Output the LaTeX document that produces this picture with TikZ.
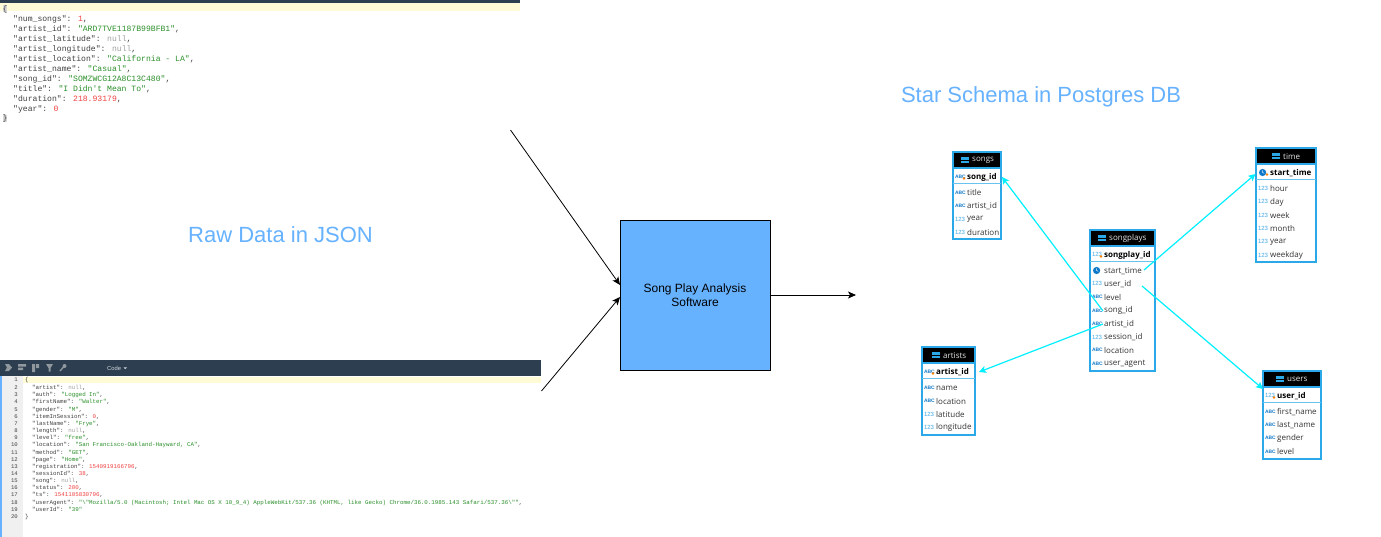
\documentclass[tikz,border=0pt]{standalone}
\usepackage{fontspec}
\usetikzlibrary{arrows.meta,calc}
\setmainfont{Liberation Sans}
\newfontfamily\jmono{Liberation Mono}
\newfontfamily\dbfont{Open Sans}
\definecolor{bar}{HTML}{2C3E50}
\definecolor{hl}{HTML}{FFFBD6}
\definecolor{gut}{HTML}{F0F0F0}
\definecolor{boxblue}{HTML}{66B2FF}
\definecolor{dbline}{HTML}{2AA8E8}
\definecolor{linkcyan}{HTML}{00F0FF}
\definecolor{jred}{HTML}{F04040}
\definecolor{jgreen}{HTML}{2A8F2A}
\definecolor{jgray}{HTML}{A0A0A0}
\definecolor{jkey}{HTML}{404040}
\definecolor{iconA}{HTML}{1078C8}
\definecolor{iconN}{HTML}{40A8E8}
\newcommand{\St}[1]{\textcolor{jgreen}{#1}}
\newcommand{\Nm}[1]{\textcolor{jred}{#1}}
\newcommand{\Nl}[1]{\textcolor{jgray}{#1}}
\newcommand{\Br}[1]{\textcolor{jkey}{#1}}
\newcommand{\icoA}{\textcolor{iconA}{\fontsize{4.9}{5}\selectfont\bfseries ABC}}
\newcommand{\icoN}{\textcolor{iconN}{\fontsize{6}{6}\selectfont 123}}
\newcommand{\icoC}{\hspace{1pt}\tikz[baseline=-2pt]{\fill[iconA] (0,0) circle (3.6pt); \draw[white,line width=.5pt] (0,2.2pt) -- (0,0) -- (1.6pt,-.8pt);}}
\tikzset{
  jtop/.style={inner sep=0,anchor=base west,text=jkey,font=\jmono\fontsize{8.1}{9}\selectfont},
  jbot/.style={inner sep=0,anchor=base west,text=jkey,font=\jmono\fontsize{5.82}{7}\selectfont},
  lnum/.style={inner sep=0,anchor=base east,text=black!75,font=\jmono\fontsize{5.6}{7}\selectfont},
  title/.style={inner sep=0,anchor=base,text=boxblue,font=\fontsize{22}{26}\selectfont},
  flow/.style={draw=black,line width=.8,-{Stealth[length=8,width=7,inset=2]}},
  link/.style={draw=linkcyan,line width=1.2,-{Stealth[length=7,width=7,inset=1.5]}},
  tbl/.style={draw=dbline,line width=1.4,fill=white},
  thead/.style={fill=black},
  tsep/.style={draw=dbline!70,line width=.9},
  rowtxt/.style={inner sep=0,anchor=west,text=black!80,font=\dbfont\fontsize{8}{9}\selectfont},
  keytxt/.style={inner sep=0,anchor=west,text=black,font=\dbfont\bfseries\fontsize{8}{9}\selectfont},
  icotxt/.style={inner sep=0,anchor=west},
  headtxt/.style={inner sep=0,anchor=west,text=white!90!black,font=\dbfont\fontsize{8}{9}\selectfont},
  tool/.style={fill=black!25!bar!50!white},
}
% id, x1, x2, y1, y2, title, title x, key icon macro, key name, rows
\newcommand{\dbtable}[9]{%
  \fill[thead] (#2,#4) rectangle (#3,#4+16);
  \draw[tbl] (#2,#4+16) rectangle (#3,#5);
  \draw[dbline,line width=1.4] (#2,#4) rectangle (#3,#4+16);
  \fill[dbline] (#7-11,#4+5) rectangle (#7-3,#4+11);
  \draw[black,line width=.4] (#7-11,#4+8) -- (#7-3,#4+8);
  \node[headtxt] (#1-head) at (#7,#4+8.5) {#6};
  \node[icotxt] (#1-kico) at (#2+1.8,#4+24.5) {#8};
  \fill[orange] (#2+11,#4+26.5) circle (1.3);
  \node[keytxt] (#1-key) at (#2+14,#4+25) {#9};
  \draw[tsep] (#2,#4+31.5) -- (#3,#4+31.5);
  \dbrows{#1}{#2}{#4}%
}
\newcommand{\dbrows}[3]{%
  \foreach \ico/\lab [count=\i from 0] in \rowlist {
    \node[icotxt] (#1-ico\i) at (#2+1.8,#3+40.5+13.3*\i) {\csname ico\ico\endcsname};
    \node[rowtxt] (#1-row\i) at (#2+14,#3+41+13.3*\i) {\lab};
  }%
}
\newcommand{\jl}[3]{\node[jtop] (#1) at (13,#2) {#3};}
\newcommand{\jb}[3]{\node[lnum] (n#1) at (18,#2) {#1}; \node[jbot] (b#1) at (32,#2) {#3};}
\begin{document}
\begin{tikzpicture}[x=1pt,y=-1pt]
\path[use as bounding box,fill=white] (0,0) rectangle (1381,537);

% --- upper JSON screenshot
\fill[bar] (0,0) rectangle (520,3.5);
\fill[hl] (0,3.5) rectangle (520,11);
\fill[black!15] (2.5,5) rectangle (7,12);
\fill[black!15] (2.5,115) rectangle (7,122);
\node[jtop] (jo) at (2.5,11.5) {\Br{\{}};
\jl{j1}{22}{"num\_songs": \Nm{1},}
\jl{j2}{32}{"artist\_id": \St{"ARD7TVE1187B99BFB1"},}
\jl{j3}{42}{"artist\_latitude": \Nl{null},}
\jl{j4}{52}{"artist\_longitude": \Nl{null},}
\jl{j5}{62}{"artist\_location": \St{"California - LA"},}
\jl{j6}{72}{"artist\_name": \St{"Casual"},}
\jl{j7}{82}{"song\_id": \St{"SOMZWCG12A8C13C480"},}
\jl{j8}{92}{"title": \St{"I Didn't Mean To"},}
\jl{j9}{102}{"duration": \Nm{218.93179},}
\jl{j10}{112}{"year": \Nm{0}}
\node[jtop] (jc) at (2.5,121) {\Br{\}}};

% --- lower JSON screenshot
\fill[gut] (0,376) rectangle (23,537);
\fill[boxblue] (0,360) rectangle (1.5,537);
\fill[bar] (0,360) rectangle (541,376);
\fill[hl] (23,376.5) rectangle (541,383);
\fill[tool] (5,364) -- (9,364) -- (12,367.5) -- (9,371) -- (5,371) -- (7,367.5) -- cycle;
\fill[tool] (18,364) rectangle (26,366.5) (18,367.5) rectangle (23,370);
\fill[tool] (32,364) rectangle (35,372) (36,364) rectangle (39,368);
\fill[tool] (46,364) -- (53,364) -- (50.5,368) -- (50.5,371.5) -- (48.5,371.5) -- (48.5,368) -- cycle;
\draw[draw=black!25!bar!50!white,line width=1.4] (60,371) -- (64,366.5);
\fill[tool] (64.5,366) circle (2);
\node[inner sep=0,anchor=base west,text=white!80!bar,font=\fontsize{5.8}{7}\selectfont] (code) at (107,370) {Code};
\fill[white!80!bar] (123.5,367.3) -- (127,367.3) -- (125.2,369.2) -- cycle;
\node[lnum] (n1) at (18,381.7) {1};
\node[jbot] (bopen) at (25,381.7) {\Br{\{}};
\jb{2}{389.5}{"artist": \Nl{null},}
\jb{3}{396.7}{"auth": \St{"Logged In"},}
\jb{4}{403.9}{"firstName": \St{"Walter"},}
\jb{5}{411}{"gender": \St{"M"},}
\jb{6}{418.2}{"itemInSession": \Nm{0},}
\jb{7}{425.3}{"lastName": \St{"Frye"},}
\jb{8}{432.5}{"length": \Nl{null},}
\jb{9}{439.7}{"level": \St{"free"},}
\jb{10}{446.8}{"location": \St{"San Francisco-Oakland-Hayward, CA"},}
\jb{11}{454}{"method": \St{"GET"},}
\jb{12}{461.1}{"page": \St{"Home"},}
\jb{13}{468.3}{"registration": \Nm{1540919166796},}
\jb{14}{475.5}{"sessionId": \Nm{38},}
\jb{15}{482.6}{"song": \Nl{null},}
\jb{16}{489.8}{"status": \Nm{200},}
\jb{17}{496.9}{"ts": \Nm{1541105830796},}
\jb{18}{504.1}{"userAgent": \St{"\textbackslash"Mozilla/5.0 (Macintosh; Intel Mac OS X 10\_9\_4) AppleWebKit/537.36 (KHTML, like Gecko) Chrome/36.0.1985.143 Safari/537.36\textbackslash""},}
\jb{19}{511.3}{"userId": \St{"39"}}
\node[lnum] (n20) at (18,518.4) {20};
\node[jbot] (bclose) at (25,518.4) {\Br{\}}};

% --- titles
\node[title] (rawtitle) at (280.5,242.5) {Raw Data in JSON};
\node[title] (startitle) at (1041,102.5) {Star Schema in Postgres DB};

% --- centre box
\node[draw=black,fill=boxblue,line width=.8,minimum width=150,minimum height=150,inner sep=0,align=center,
      font=\fontsize{12}{14}\selectfont] (box) at (695,295) {\raisebox{-1pt}{Song Play Analysis}\\\raisebox{-1pt}{Software}};
\coordinate (jsonA) at (510.5,130);
\coordinate (jsonB) at (541.5,391);
\coordinate (boxA) at (620,285);
\coordinate (boxB) at (620,297);
\coordinate (schema) at (856,295);
\draw[flow] (jsonA) -- (boxA);
\draw[flow] (jsonB) -- (boxB);
\draw[flow] (box.east) -- (schema);

% --- tables
\def\rowlist{A/title,A/artist\_id,N/year,N/duration}
\dbtable{songs}{953}{1001}{152}{239}{songs}{972}{\icoA}{song\_id}
\def\rowlist{N/hour,N/day,N/week,N/month,N/year,N/weekday}
\dbtable{time}{1256}{1316}{148}{262}{time}{1283}{\icoC}{start\_time}
\def\rowlist{C/start\_time,N/user\_id,A/level,A/song\_id,A/artist\_id,N/session\_id,A/location,A/user\_agent}
\dbtable{plays}{1090}{1155}{230}{371}{songplays}{1109}{\icoN}{songplay\_id}
\def\rowlist{A/first\_name,A/last\_name,A/gender,A/level}
\dbtable{users}{1263}{1321}{371}{459}{users}{1287}{\icoN}{user\_id}
\def\rowlist{A/name,A/location,N/latitude,N/longitude}
\dbtable{artists}{922}{975}{347}{435}{artists}{943}{\icoA}{artist\_id}

% --- foreign key links
\coordinate (fkSong) at (1103,311);
\coordinate (pkSong) at (1002,177);
\coordinate (fkArtist) at (1103,324);
\coordinate (pkArtist) at (979,372);
\coordinate (fkTime) at (1144,270);
\coordinate (pkTime) at (1255.5,174);
\coordinate (fkUser) at (1142,286);
\coordinate (pkUser) at (1263,389);
\draw[link] (fkSong) -- (pkSong);
\draw[link] (fkArtist) -- (pkArtist);
\draw[link] (fkTime) -- (pkTime);
\draw[link] (fkUser) -- (pkUser);
\end{tikzpicture}
\end{document}
